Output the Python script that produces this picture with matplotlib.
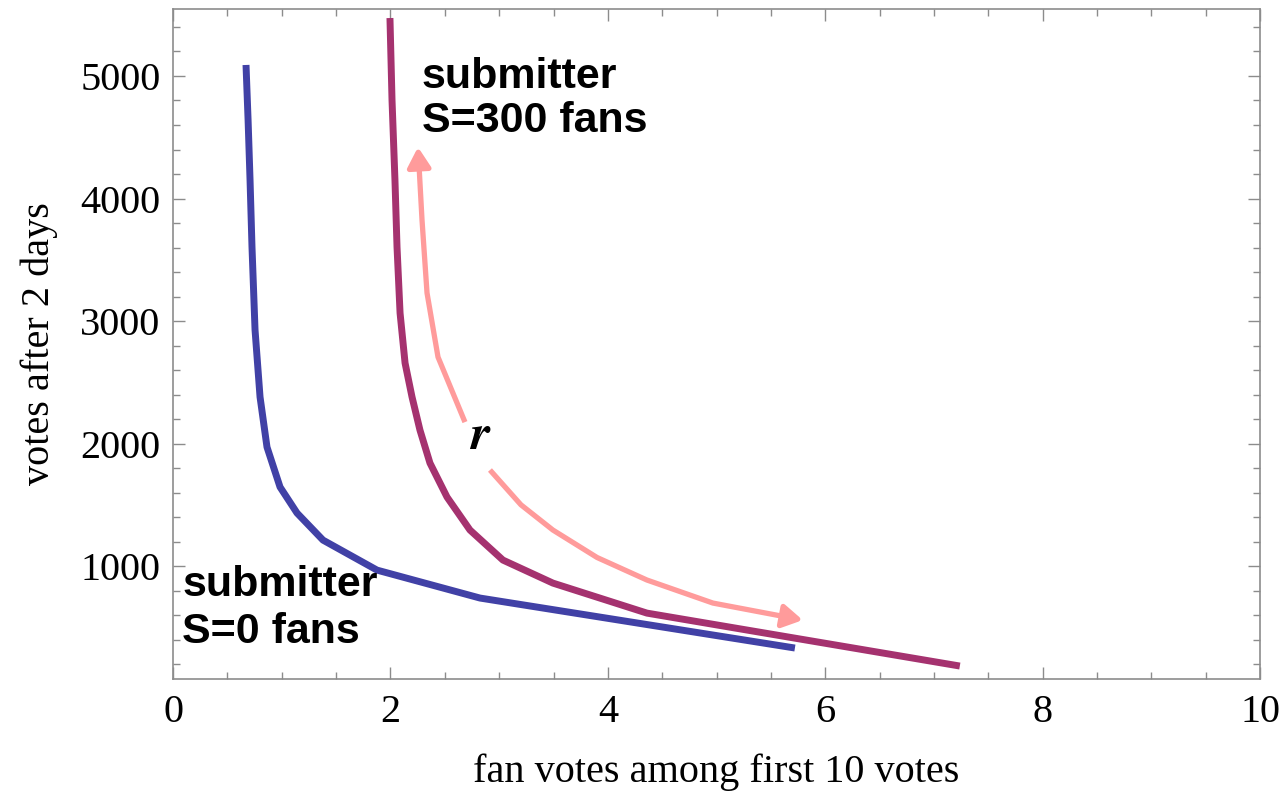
import numpy as np
import matplotlib
matplotlib.use("Agg")
from matplotlib import pyplot as plt
from matplotlib.patches import FancyArrowPatch
from matplotlib.path import Path

# curve for a submitter with no fans
s0_x = [0.671, 0.690, 0.708, 0.726, 0.754, 0.800, 0.864, 0.984, 1.140, 1.379, 1.876, 2.823, 5.72]
s0_y = [5090, 4641, 4151, 3604, 2927, 2380, 1971, 1645, 1433, 1212, 967, 739, 331]

# curve for a submitter with 300 fans
s300_x = [1.995, 2.014, 2.041, 2.060, 2.088, 2.134, 2.198, 2.271, 2.363, 2.520, 2.731,
          3.034, 3.494, 4.359, 5.278, 7.237]
s300_y = [5473, 4804, 4151, 3604, 3065, 2657, 2380, 2110, 1841, 1563, 1294,
          1049, 861, 616, 478, 184]

# hand drawn "r" arrows (data coords)
arrow_up_x = [2.685, 2.437, 2.336, 2.29, 2.253]
arrow_up_y = [2175, 2706, 3229, 3824, 4420]
arrow_dn_x = [2.915, 3.20, 3.494, 3.90, 4.359, 4.966, 5.793]
arrow_dn_y = [1784, 1500, 1294, 1070, 886, 698, 559]

xticks = [0, 2, 4, 6, 8, 10]
yticks = [1000, 2000, 3000, 4000, 5000]

serif = "Liberation Serif"
sans = "Liberation Sans"
frame = "#8c8c8c"

fig = plt.figure(figsize=(12.82, 7.94), dpi=100)
ax = fig.add_axes([0.135, 0.1448, 0.848, 0.8439])

ax.plot(s0_x, s0_y, color="#4141a6", lw=5, solid_capstyle="butt",
        solid_joinstyle="round", zorder=3)
ax.plot(s300_x, s300_y, color="#a5326f", lw=5, solid_capstyle="butt",
        solid_joinstyle="round", zorder=3)

for xs, ys in [(arrow_up_x, arrow_up_y), (arrow_dn_x, arrow_dn_y)]:
    p = Path(np.column_stack([xs, ys]))
    arr = FancyArrowPatch(path=p, arrowstyle="-|>,head_length=0.6,head_width=0.35",
                          mutation_scale=20, color="#ff9b9b", lw=3.8,
                          joinstyle="round", capstyle="butt", zorder=2)
    ax.add_patch(arr)

ax.text(2.82, 2053, "r", fontsize=36, fontweight="bold", fontstyle="italic",
        family="STIXGeneral", ha="center", va="center")

bold = dict(fontsize=31, fontweight="bold", family=sans, ha="left", va="baseline")
ax.text(2.29, 4902, "submitter", **bold)
ax.text(2.29, 4543, "S=300 fans", **bold)
ax.text(0.083, 755, "submitter", **bold)
ax.text(0.083, 371, "S=0 fans", **bold)

ax.set_xlim(0, 10)
ax.set_ylim(78, 5547)
ax.set_xticks(xticks)
ax.set_yticks(yticks)
ax.set_xticks(np.arange(0, 10.01, 0.5), minor=True)
ax.set_yticks(np.arange(200, 5547, 200), minor=True)
ax.set_xticklabels([str(v) for v in xticks], family=serif, fontsize=29)
ax.set_yticklabels([str(v) for v in yticks], family=serif, fontsize=29)

ax.tick_params(which="both", direction="in", top=True, right=True,
               color=frame, width=1.0)
ax.tick_params(which="major", length=8.5)
ax.tick_params(which="minor", length=5)
ax.tick_params(axis="x", which="major", pad=11)
ax.tick_params(axis="y", which="major", pad=9)
for s in ax.spines.values():
    s.set_color(frame)
    s.set_linewidth(1.2)

ax.set_xlabel("fan votes among first 10 votes", family=serif, fontsize=29, labelpad=16)
ax.set_ylabel("votes after 2 days", family=serif, fontsize=29, labelpad=16)

fig.savefig("out.png", dpi=100)
